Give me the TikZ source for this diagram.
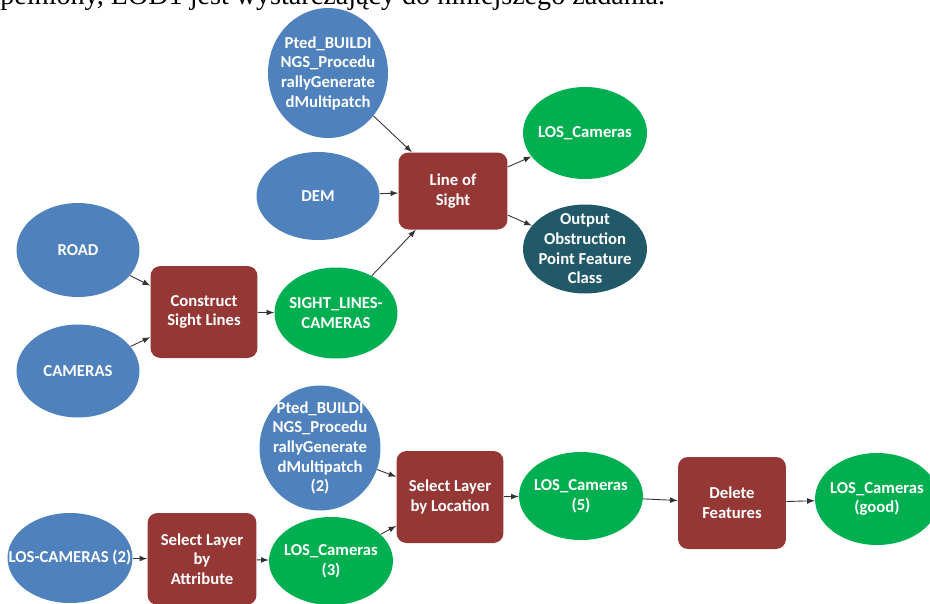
\documentclass[tikz,border=0pt]{standalone}
\usepackage{fontspec}
\setmainfont{Carlito}
\newfontfamily\tekstdokumentu{Liberation Serif}
\usetikzlibrary{shapes.geometric}

\definecolor{niebieski}{RGB}{79,129,189}
\definecolor{zielony}{RGB}{0,176,80}
\definecolor{bordowy}{RGB}{149,55,53}
\definecolor{morski}{RGB}{33,89,104}

\tikzset{
	napis/.style={text=white,font=\bfseries\fontsize{9.5}{11.2}\selectfont,align=center,inner sep=0pt},
	dane/.style={ellipse,fill=niebieski,inner sep=0pt,label={[napis]center:#1}},
	wynik/.style={dane=#1,fill=zielony},
	wyjscie/.style={dane=#1,fill=morski},
	narzedzie/.style={rectangle,rounded corners=0.2cm,fill=bordowy,napis},
	strzalka/.style={->,>=latex,draw=black!80,line width=0.5pt},
}

\begin{document}
\begin{tikzpicture}[x=0.02cm,y=-0.02cm]
		\useasboundingbox (0,0) rectangle (930,603);
		%koniec zdania nad rysunkiem
		\node (zdanie) at (0,4) [anchor=base west,inner sep=0pt,font=\tekstdokumentu\fontsize{16}{18}\selectfont] {pełniony, LOD1 jest wystarczający do niniejszego zadania.};

		%gorny model: Line of Sight
		\node (node budynki) at (328,73) [dane={Pted\_BUILDI\\NGS\_Procedu\\rallyGenerate\\dMultipatch},minimum width=2.4cm,minimum height=2.6cm] {};
		\node (node DEM) at (318,196) [dane=DEM,minimum width=2.46cm,minimum height=1.76cm] {};
		\node (node LoS) at (453,191) [narzedzie,minimum width=2.18cm,minimum height=1.54cm] {Line of\\Sight};
		\node (node LOS) at (585,133) [wynik=LOS\_Cameras,minimum width=2.48cm,minimum height=1.84cm] {};
		\node (node obstrukcja) at (585,249) [wyjscie={Output\\Obstruction\\Point Feature\\Class},minimum width=2.48cm,minimum height=1.78cm] {};
		\node (node ROAD) at (78,250) [dane=ROAD,minimum width=2.46cm,minimum height=1.88cm] {};
		\node (node CAMERAS) at (78,371) [dane=CAMERAS,minimum width=2.46cm,minimum height=1.86cm] {};
		\node (node konstrukcja) at (204,312) [narzedzie,minimum width=2.14cm,minimum height=1.84cm] {Construct\\Sight Lines};
		\node (node linie) at (336,313) [wynik={SIGHT\_LINES-\\CAMERAS},minimum width=2.46cm,minimum height=1.82cm] {};

		%dolny model: wybor i usuwanie
		\node (node budynki 2) at (320,448) [dane={Pted\_BUILDI\\NGS\_Procedu\\rallyGenerate\\dMultipatch\\(2)},minimum width=2.42cm,minimum height=2.5cm] {};
		\node (node lokalizacja) at (450,497) [narzedzie,minimum width=2.14cm,minimum height=1.84cm] {Select Layer\\by Location};
		\node (node LOS 3) at (331,561) [wynik={LOS\_Cameras\\(3)},minimum width=2.48cm,minimum height=1.76cm] {};
		\node (node LOS-CAM 2) at (70,558) [dane={LOS-CAMERAS (2)},minimum width=2.5cm,minimum height=1.8cm] {};
		\node (node atrybut) at (202,559) [narzedzie,minimum width=2.18cm,minimum height=1.84cm] {Select Layer\\by\\Attribute};
		\node (node LOS 5) at (581,496) [wynik={LOS\_Cameras\\(5)},minimum width=2.48cm,minimum height=1.76cm] {};
		\node (node usun) at (732,503) [narzedzie,minimum width=2.16cm,minimum height=1.84cm] {Delete\\Features};
		\node (node LOS good) at (877,499) [wynik={LOS\_Cameras\\(good)},minimum width=2.48cm,minimum height=1.84cm] {};

		\path
		(node budynki) edge[strzalka] (node LoS)
		(node DEM) edge[strzalka] (node LoS)
		(node linie) edge[strzalka] (node LoS)
		(node LoS) edge[strzalka] (node LOS)
		(node LoS) edge[strzalka] (node obstrukcja)
		(node ROAD) edge[strzalka] (node konstrukcja)
		(node CAMERAS) edge[strzalka] (node konstrukcja)
		(node konstrukcja) edge[strzalka] (node linie)
		(node budynki 2) edge[strzalka] (node lokalizacja)
		(node LOS 3) edge[strzalka] (node lokalizacja)
		(node LOS-CAM 2) edge[strzalka] (node atrybut)
		(node atrybut) edge[strzalka] (node LOS 3)
		(node lokalizacja) edge[strzalka] (node LOS 5)
		(node LOS 5) edge[strzalka] (node usun)
		(node usun) edge[strzalka] (node LOS good)
		;
\end{tikzpicture}
\end{document}
